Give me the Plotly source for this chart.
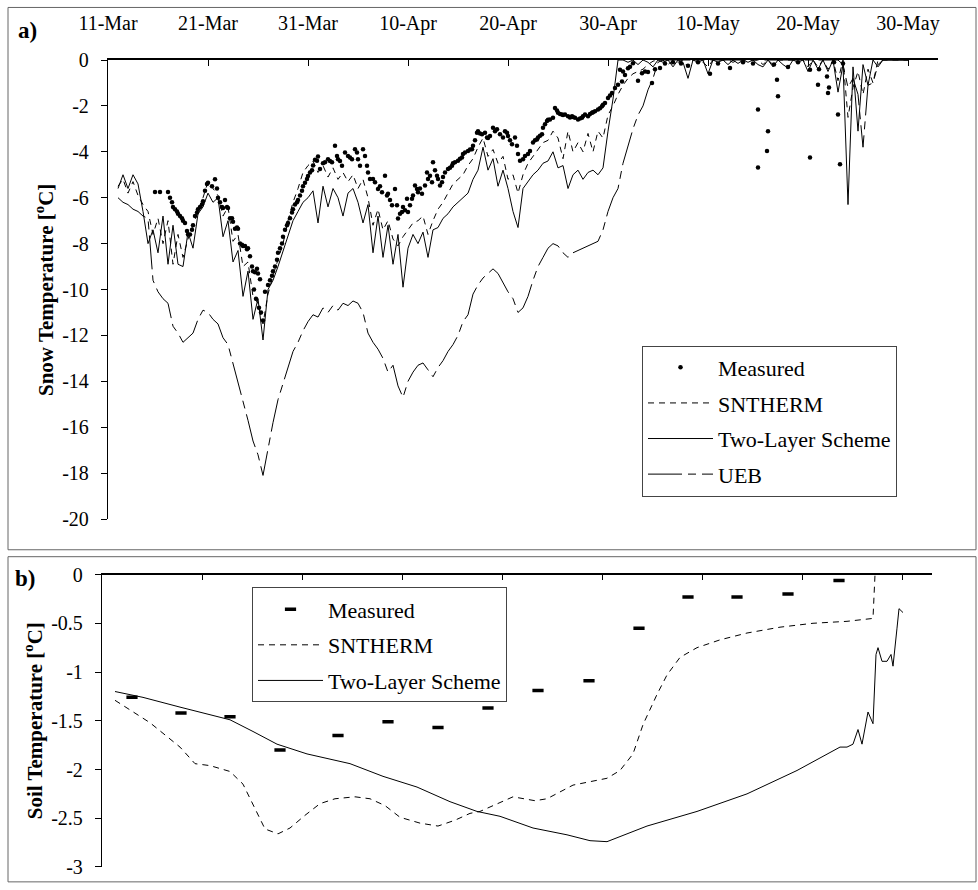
import numpy as np
import pandas as pd
import plotly.graph_objects as go

SERIF = "Liberation Serif"
START = pd.Timestamp("2001-03-11")

# ---------------------------------------------------------------
# (a) Snow temperature, model output every half day, day 1.0 .. 80.0
#     (days counted from 11-Mar 00:00)
# ---------------------------------------------------------------
SNOW_FIRST_DAY = 1.0
SNOW_STEP_DAY = 0.5

sntherm_snow = [
    -5.5, -5.2, -5.8, -5.3, -5.9, -6.3, -6.6, -7.6, -6.9, -8.0,
    -7.0, -8.9, -7.6, -8.6, -7.8, -7.2, -6.6, -6.0, -5.3, -5.6,
    -5.9, -6.8, -6.4, -7.9, -7.6, -9.0, -8.8, -10.3, -10.6, -11.5,
    -10.2, -9.4, -8.7, -8.0, -7.0, -6.2, -5.6, -4.9, -4.6, -4.4,
    -4.9, -4.6, -5.1, -4.7, -5.2, -4.9, -5.3, -5.0, -5.6, -5.2,
    -6.0, -7.2, -6.5, -7.4, -7.0, -7.8, -8.1, -7.7, -7.4, -7.1,
    -7.0, -6.8, -7.6, -7.0, -6.5, -6.2, -5.8, -5.4, -5.2, -5.0,
    -4.6, -4.3, -3.8, -3.4, -4.2, -3.9, -4.5, -4.2, -5.2, -5.0,
    -5.8, -5.0, -4.5, -4.2, -3.9, -3.6, -3.5, -3.1, -3.4, -4.3,
    -3.1, -4.0, -3.6, -4.0, -3.2, -4.0, -3.1, -3.4, -2.4, -2.0,
    -1.5, -1.1, -0.8, -0.6, -0.5, -0.4, -0.2, -0.05, 0.0, 0.0,
    -0.2, 0.0, -0.1, 0.0, -0.3, 0.0, 0.0, -0.1, -0.3, 0.0,
    0.0, 0.0, 0.0, -0.1, 0.0, 0.0, 0.0, 0.0, 0.0, -0.2,
    0.0, -0.2, 0.0, 0.0, 0.0, 0.0, 0.0, 0.0, -0.3, 0.0,
    -0.3, 0.0, -0.4, 0.0, -0.9, 0.0, -2.5, -1.2, -0.5, -1.5,
    -0.4, -1.0, 0.0, 0.0, 0.0, 0.0, 0.0, 0.0, 0.0,
]

two_layer_snow = [
    -5.6, -5.0, -5.6, -5.0, -5.4, -6.6, -8.0, -7.4, -8.4, -6.8,
    -8.9, -7.2, -8.9, -9.0, -7.5, -8.2, -6.7, -6.4, -5.8, -6.2,
    -6.0, -7.7, -7.0, -8.8, -8.3, -10.3, -9.2, -11.3, -10.4, -12.2,
    -10.0, -9.6, -9.0, -8.3, -7.6, -7.0, -6.6, -6.2, -6.0, -5.7,
    -7.1, -5.5, -6.4, -5.6, -6.0, -6.8, -5.8, -5.6, -6.2, -7.1,
    -6.3, -8.4, -6.8, -8.6, -7.2, -8.9, -7.6, -9.9, -8.2, -7.6,
    -8.0, -7.5, -8.6, -7.4, -7.3, -6.9, -6.7, -6.4, -6.2, -6.0,
    -5.8, -5.2, -4.8, -3.8, -4.8, -4.3, -5.5, -4.8, -5.6, -6.6,
    -7.3, -5.6, -5.3, -5.0, -4.8, -4.5, -4.4, -4.0, -4.7, -4.6,
    -5.6, -5.0, -4.8, -5.2, -4.9, -4.8, -5.0, -4.7, -3.1, -1.7,
    0.0, 0.0, -0.1, 0.0, -0.2, 0.0, -0.1, -0.3, 0.0, -0.1,
    0.0, -0.3, 0.0, -0.1, -0.8, 0.0, -0.1, 0.0, -0.6, 0.0,
    -0.1, 0.0, -0.2, 0.0, -0.15, 0.0, -0.1, 0.0, -0.2, -0.3,
    0.0, -0.3, 0.0, -0.2, -0.35, 0.0, -0.1, 0.0, -0.5, 0.0,
    -0.4, 0.0, -0.5, 0.0, -1.4, -0.2, -6.3, -0.3, -3.1, -0.2,
    -1.1, 0.0, -0.3, 0.0, 0.0, 0.0, 0.0, 0.0, 0.0,
]

ueb_snow = [
    -6.0, -6.2, -6.3, -6.5, -6.6, -6.8, -6.9, -9.6, -10.1, -10.4,
    -10.6, -11.6, -11.9, -12.3, -12.1, -11.9, -11.3, -10.9, -11.0, -11.3,
    -11.5, -12.1, -12.4, -13.2, -14.0, -14.9, -15.7, -16.6, -17.2, -18.1,
    -16.9, -15.8, -14.8, -14.1, -13.5, -12.7, -12.3, -11.8, -11.4, -11.1,
    -11.2, -10.8, -11.0, -10.7, -10.9, -10.6, -10.7, -10.5, -10.6, -11.0,
    -11.9, -12.3, -12.6, -13.0, -13.6, -13.3, -14.2, -14.7, -14.0, -13.6,
    -13.3, -13.2, -13.5, -13.8, -13.4, -13.1, -12.7, -12.4, -12.0, -11.4,
    -11.1, -10.2, -9.8, -9.5, -9.3, -9.1, -9.3, -9.7, -10.1, -10.4,
    -11.0, -10.8, -10.3, -9.6, -9.0, -8.6, -8.2, -8.0, -8.1, -8.4,
    -8.6, -8.4, -8.3, -8.2, -8.1, -8.0, -7.9, -7.4, -6.6, -6.0,
    -5.6, -4.5, -3.7, -3.0, -2.4, -2.0, -1.3, -0.8, -0.1, 0.0,
    0.0, 0.0, 0.0, 0.0, 0.0, 0.0, 0.0, 0.0, 0.0, 0.0,
    0.0, 0.0, 0.0, 0.0, 0.0, 0.0, 0.0, 0.0, 0.0, 0.0,
    0.0, 0.0, 0.0, 0.0, 0.0, 0.0, 0.0, 0.0, 0.0, 0.0,
    0.0, 0.0, 0.0, 0.0, 0.0, -0.2, -1.2, -0.8, -1.5, -3.8,
    -1.1, -1.0, -0.2, 0.0, 0.0, 0.0, 0.0, 0.0, 0.0,
]

# measured snow temperature (day after 11-Mar, deg C)
measured_snow_day = [
    4.7, 5.2, 6.0, 6.2, 6.4, 6.5, 6.7, 6.9, 7.0, 7.2,
    7.4, 7.5, 7.7, 7.9, 8.0, 8.2, 8.4, 8.5, 8.7, 8.9,
    9.0, 9.2, 9.4, 9.5, 9.7, 9.9, 10.0, 10.4, 10.7, 10.9,
    11.0, 11.2, 11.4, 11.5, 11.7, 11.9, 12.0, 12.2, 12.4, 12.5,
    12.7, 12.9, 13.0, 13.2, 13.4, 13.5, 13.7, 13.9, 14.0, 14.2,
    14.4, 14.5, 14.6, 14.7, 14.8, 14.9, 15.0, 15.1, 15.2, 15.3,
    15.5, 15.7, 16.0, 16.2, 16.4, 16.5, 16.7, 16.9, 17.0, 17.2,
    17.4, 17.5, 17.7, 17.9, 18.0, 18.2, 18.4, 18.5, 18.7, 18.9,
    19.0, 19.2, 19.4, 19.5, 19.7, 19.9, 20.0, 20.2, 20.4, 20.5,
    20.7, 20.9, 21.0, 21.2, 21.5, 21.7, 22.0, 22.2, 22.4, 22.7,
    22.9, 23.0, 23.2, 23.4, 23.7, 24.0, 24.2, 24.4, 24.7, 24.9,
    25.0, 25.2, 25.5, 25.7, 25.9, 26.0, 26.2, 26.5, 26.7, 27.0,
    27.2, 27.4, 27.7, 27.9, 28.0, 28.2, 28.4, 28.7, 28.9, 29.0,
    29.2, 29.4, 29.5, 29.7, 29.9, 30.0, 30.2, 30.4, 30.5, 30.7,
    30.9, 31.0, 31.2, 31.4, 31.7, 31.9, 32.0, 32.2, 32.4, 32.5,
    32.7, 32.9, 33.0, 33.2, 33.4, 33.5, 33.7, 34.0, 34.2, 34.4,
    34.5, 34.7, 35.0, 35.2, 35.4, 35.5, 35.7, 36.0, 36.2, 36.4,
    36.5, 36.7, 36.9, 37.0, 37.2, 37.4, 37.7, 37.9, 38.0, 38.2,
    38.5, 38.7, 38.9, 39.2, 39.5, 39.7, 39.9, 40.0, 40.2, 40.4,
    40.7, 40.9, 41.0, 41.2, 41.5, 41.7, 42.0, 42.2, 42.5, 42.7,
    42.9, 43.0, 43.2, 43.4, 43.5, 43.7, 43.9, 44.0, 44.2, 44.5,
    44.7, 44.9, 45.0, 45.2, 45.4, 45.5, 45.7, 46.0, 46.2, 46.4,
    46.5, 46.7, 47.0, 47.2, 47.4, 47.5, 47.7, 48.0, 48.2, 48.4,
    48.5, 48.7, 49.0, 49.2, 49.4, 49.5, 49.7, 50.0, 50.2, 50.4,
    50.7, 51.0, 51.2, 51.4, 51.5, 51.7, 52.0, 52.2, 52.5, 53.0,
    53.4, 53.7, 54.0, 54.4, 54.7, 55.2, 55.7, 56.5, 57.3, 58.0,
    59.0, 60.2, 61.0, 62.2, 63.5, 64.5, 65.0, 65.0, 65.9, 66.0,
    66.6, 66.9, 67.0, 68.0, 69.0, 70.2, 70.2, 71.0, 71.1, 71.9,
    72.0, 72.1, 72.6, 73.0, 73.2, 73.5,
]
measured_snow_temp = [
    -5.75, -5.75, -5.75, -6.0, -6.2, -6.4, -6.5, -6.6, -6.7, -6.8,
    -6.9, -7.0, -7.1, -7.45, -7.6, -7.6, -7.4, -7.2, -6.8, -6.65,
    -6.5, -6.4, -6.3, -6.15, -5.7, -5.4, -5.35, -5.5, -5.2, -5.6,
    -6.0, -6.2, -6.4, -6.45, -6.1, -6.4, -6.45, -6.9, -6.9, -7.05,
    -7.35, -7.3, -7.35, -8.0, -8.05, -8.1, -8.1, -8.25, -8.2, -8.55,
    -9.0, -9.2, -10.0, -9.25, -10.4, -9.1, -9.3, -10.8, -9.55, -11.0,
    -11.35, -10.1, -9.8, -9.6, -9.4, -9.2, -9.0, -8.7, -8.4, -8.2,
    -8.0, -7.7, -7.4, -7.2, -7.1, -6.9, -6.65, -6.5, -6.3, -6.2,
    -6.1, -5.9, -5.7, -5.5, -5.35, -5.18, -5.05, -4.9, -4.8, -4.6,
    -4.35, -4.39, -4.2, -4.75, -4.5, -4.46, -4.32, -4.4, -4.46, -3.74,
    -4.18, -4.32, -4.4, -4.61, -4.03, -4.18, -4.25, -4.32, -3.89, -4.03,
    -4.32, -4.61, -3.89, -4.18, -4.61, -4.9, -5.18, -5.18, -5.33, -5.62,
    -5.5, -5.76, -5.04, -5.9, -5.83, -6.1, -6.33, -5.62, -6.33, -6.91,
    -6.7, -6.62, -6.41, -6.55, -6.05, -6.62, -6.33, -6.05, -5.9, -5.47,
    -5.62, -5.76, -5.6, -5.83, -5.47, -4.9, -5.18, -5.04, -5.33, -4.46,
    -4.8, -5.04, -5.18, -5.47, -5.33, -5.1, -4.9, -4.75, -4.7, -4.61,
    -4.5, -4.46, -4.39, -4.3, -4.25, -4.1, -4.03, -3.96, -3.9, -3.89,
    -3.74, -3.5, -3.17, -3.1, -3.2, -3.24, -3.17, -3.38, -3.4, -3.31,
    -2.95, -3.1, -3.02, -3.24, -3.38, -3.1, -3.17, -3.31, -3.5, -3.67,
    -3.38, -3.74, -4.1, -4.39, -4.32, -4.18, -4.1, -3.96, -3.6, -3.5,
    -3.46, -3.38, -3.3, -3.24, -2.95, -2.8, -2.66, -2.6, -2.59, -2.52,
    -2.09, -2.2, -2.3, -2.35, -2.38, -2.4, -2.38, -2.45, -2.5, -2.45,
    -2.48, -2.52, -2.59, -2.55, -2.52, -2.45, -2.38, -2.45, -2.35, -2.3,
    -2.28, -2.23, -2.16, -2.1, -2.02, -1.95, -1.87, -1.66, -1.55, -1.44,
    -1.22, -1.08, -0.43, -0.94, -0.5, -0.65, -0.36, -0.29, -0.14, -0.9,
    -0.58, -0.5, -0.52, -1.0, -0.4, -0.35, -0.15, -0.1, -0.15, -0.25,
    -0.1, -0.6, -0.15, -0.35, -0.1, -0.15, -2.16, -4.68, -3.96, -3.1,
    -0.2, -0.86, -1.58, -0.3, -0.1, -0.43, -4.25, -1.08, -0.4, -0.72,
    -1.44, -1.2, -0.1, -2.38, -4.54, -0.15,
]

# ---------------------------------------------------------------
# (b) Soil temperature (day after 11-Mar, deg C)
# ---------------------------------------------------------------
soil_measured_day = [3.0, 7.9, 12.8, 17.8, 23.6, 28.6, 33.6, 38.6,
                     43.6, 48.7, 53.7, 58.6, 63.5, 68.6, 73.7]
soil_measured_temp = [-1.26, -1.42, -1.46, -1.80, -1.65, -1.51, -1.57, -1.37,
                      -1.19, -1.09, -0.55, -0.23, -0.23, -0.20, -0.06]

sntherm_soil_day = [1.3, 4.8, 7.8, 9.3, 10.8, 12.8, 14.1, 15.3, 16.3, 17.6,
                    18.8, 20.3, 21.8, 23.3, 25.3, 26.8, 28.3, 29.8, 31.8, 33.6,
                    35.3, 36.8, 37.8, 41.1, 43.3, 44.5, 47.1, 50.5, 51.8, 53.1,
                    54.1, 55.5, 56.5, 57.8, 59.5, 61.8, 64.5, 67.8, 71.1, 74.5,
                    77.1, 77.3]
sntherm_soil_temp = [-1.29, -1.52, -1.77, -1.94, -1.96, -2.02, -2.15, -2.40, -2.61, -2.66,
                     -2.60, -2.47, -2.35, -2.30, -2.28, -2.30, -2.37, -2.49, -2.55, -2.58,
                     -2.52, -2.45, -2.43, -2.28, -2.32, -2.30, -2.16, -2.09, -2.01, -1.84,
                     -1.54, -1.23, -1.03, -0.85, -0.75, -0.67, -0.60, -0.54, -0.50, -0.48,
                     -0.45, 0.0]

two_layer_soil_day = [1.3, 4.1, 7.8, 12.8, 15.1, 17.5, 20.5, 24.8, 28.1, 31.5,
                      34.8, 37.5, 39.8, 43.1, 46.5, 48.8, 50.5, 54.5, 59.5, 64.5,
                      69.5, 73.8, 74.5, 75.1, 75.6, 76.0, 76.6, 77.1, 77.4, 77.6,
                      78.0, 78.5, 78.9, 79.1, 79.5, 79.7, 80.1]
two_layer_soil_temp = [-1.20, -1.26, -1.36, -1.49, -1.61, -1.74, -1.84, -1.94, -2.07, -2.18,
                       -2.33, -2.43, -2.48, -2.60, -2.67, -2.73, -2.74, -2.58, -2.43, -2.25,
                       -2.01, -1.77, -1.77, -1.74, -1.59, -1.74, -1.41, -1.53, -0.82, -0.75,
                       -0.89, -0.89, -0.82, -0.94, -0.55, -0.35, -0.39]

# axis ticks
snow_ticks = [0, -2, -4, -6, -8, -10, -12, -14, -16, -18, -20]
snow_tick_text = ["0", "-2", "-4", "-6", "-8", "-10", "-12", "-14", "-16", "-18", "-20"]
soil_ticks = [0, -0.5, -1, -1.5, -2, -2.5, -3]
soil_tick_text = ["0", "-0.5", "-1", "-1.5", "-2", "-2.5", "-3"]
AXIS_DAYS = 83


def to_date(days):
    return START + pd.to_timedelta(np.asarray(days, dtype=float), unit="D")


snow_days = SNOW_FIRST_DAY + SNOW_STEP_DAY * np.arange(len(two_layer_snow))
snow_x = to_date(snow_days)

SN_DASH = "6px,5px"
UEB_DASH = "34px,6px,8px,6px"

fig = go.Figure()

# ---- panel (a)
fig.add_trace(go.Scatter(x=snow_x, y=sntherm_snow, mode="lines", name="SNTHERM",
                         line=dict(color="black", width=1, dash=SN_DASH),
                         xaxis="x", yaxis="y", legend="legend",
                         legendgroup="a2", legendrank=2))
fig.add_trace(go.Scatter(x=snow_x, y=two_layer_snow, mode="lines", name="Two-Layer Scheme",
                         line=dict(color="black", width=1),
                         xaxis="x", yaxis="y", legend="legend",
                         legendgroup="a3", legendrank=3))
fig.add_trace(go.Scatter(x=snow_x, y=ueb_snow, mode="lines", name="UEB",
                         line=dict(color="black", width=1, dash=UEB_DASH),
                         xaxis="x", yaxis="y", legend="legend",
                         legendgroup="a4", legendrank=4))
fig.add_trace(go.Scatter(x=to_date(measured_snow_day), y=measured_snow_temp,
                         mode="markers", name="Measured",
                         marker=dict(symbol="circle", size=4.5, color="black"),
                         xaxis="x", yaxis="y", legend="legend",
                         legendgroup="a1", legendrank=1))

# ---- panel (b)
fig.add_trace(go.Scatter(x=to_date(sntherm_soil_day), y=sntherm_soil_temp, mode="lines",
                         name="SNTHERM", line=dict(color="black", width=1, dash=SN_DASH),
                         xaxis="x2", yaxis="y2", legend="legend2",
                         legendgroup="b2", legendrank=2))
fig.add_trace(go.Scatter(x=to_date(two_layer_soil_day), y=two_layer_soil_temp, mode="lines",
                         name="Two-Layer Scheme", line=dict(color="black", width=1),
                         xaxis="x2", yaxis="y2", legend="legend2",
                         legendgroup="b3", legendrank=3))
fig.add_trace(go.Scatter(x=to_date(soil_measured_day), y=soil_measured_temp, mode="markers",
                         name="Measured",
                         marker=dict(symbol="line-ew", size=8, color="black",
                                     line=dict(width=3.5, color="black")),
                         xaxis="x2", yaxis="y2", legend="legend2",
                         legendgroup="b1", legendrank=1))

# ---- geometry (pixels -> paper fractions)
W, H = 978, 890
ML, MR, MT, MB = 100, 40, 60, 16
PW, PH = W - ML - MR, H - MT - MB


def px(x):
    return (x - ML) / PW


def py(y):
    return (H - MB - y) / PH


tick_font = dict(family=SERIF, size=20, color="black")
x_common = dict(type="date", range=[START, START + pd.Timedelta(days=AXIS_DAYS)],
                side="top", showline=True, linecolor="black", linewidth=1.8,
                ticks="inside", ticklen=6, tickwidth=1.3, tickcolor="black",
                tick0=START, dtick=10 * 86400000, tickformat="%d-%b",
                showgrid=False, zeroline=False, tickfont=tick_font, fixedrange=True)
y_common = dict(showline=True, linecolor="black", linewidth=1.4,
                ticks="outside", ticklen=6, tickwidth=1.3, tickcolor="black",
                showgrid=False, zeroline=False, tickfont=tick_font,
                ticklabelstandoff=8, fixedrange=True)

legend_common = dict(xanchor="left", yanchor="top", bgcolor="white",
                     bordercolor="#444", borderwidth=1,
                     font=dict(family=SERIF, size=22, color="black"),
                     itemwidth=65, traceorder="grouped", tracegroupgap=4)

fig.update_layout(
    width=W, height=H,
    margin=dict(l=ML, r=MR, t=MT, b=MB),
    paper_bgcolor="white", plot_bgcolor="white",
    font=dict(family=SERIF, color="black"),
    xaxis=dict(**x_common, domain=[px(108), 1.0], anchor="y", ticklabelstandoff=20),
    yaxis=dict(**y_common, domain=[py(523), 1.0], anchor="x", range=[-20, 0],
               tickvals=snow_ticks, ticktext=snow_tick_text),
    xaxis2=dict(**x_common, domain=[px(102), px(932)], anchor="y2", showticklabels=False),
    yaxis2=dict(**y_common, domain=[0.0, py(579)], anchor="x2", range=[-3, 0],
                tickvals=soil_ticks, ticktext=soil_tick_text),
    legend=dict(**legend_common, x=px(642), y=py(348)),
    legend2=dict(**legend_common, x=px(252), y=py(592)),
    shapes=[
        dict(type="rect", xref="paper", yref="paper", x0=px(8), x1=px(976),
             y0=py(554), y1=py(7), line=dict(color="#666", width=1)),
        dict(type="rect", xref="paper", yref="paper", x0=px(8), x1=px(976),
             y0=py(889), y1=py(561), line=dict(color="#666", width=1)),
    ],
    annotations=[
        dict(text="<b>a)</b>", xref="paper", yref="paper", x=px(27), y=py(30),
             xanchor="center", yanchor="middle", showarrow=False,
             font=dict(family=SERIF, size=23, color="black")),
        dict(text="<b>b)</b>", xref="paper", yref="paper", x=px(25), y=py(583),
             xanchor="center", yanchor="middle", showarrow=False,
             font=dict(family=SERIF, size=23, color="black")),
        dict(text="<b>Snow Temperature [<sup>o</sup>C]</b>", xref="paper", yref="paper",
             x=px(44), y=py(292), xanchor="center", yanchor="middle",
             textangle=-90, showarrow=False,
             font=dict(family=SERIF, size=21, color="black")),
        dict(text="<b>Soil Temperature [<sup>o</sup>C]</b>", xref="paper", yref="paper",
             x=px(33), y=py(727), xanchor="center", yanchor="middle",
             textangle=-90, showarrow=False,
             font=dict(family=SERIF, size=21, color="black")),
    ],
)

fig.write_html("out.html")
